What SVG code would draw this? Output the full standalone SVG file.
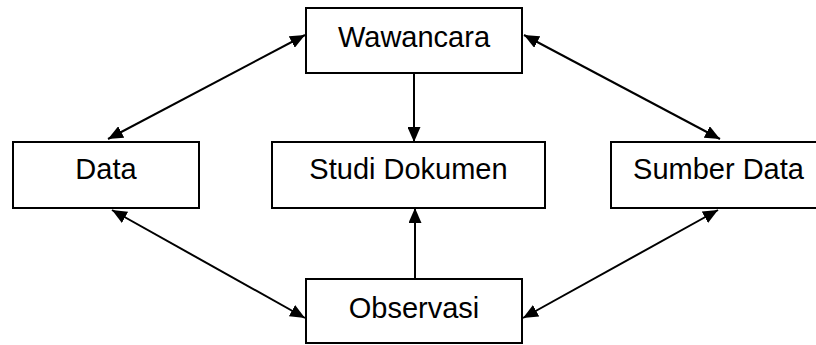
<svg xmlns="http://www.w3.org/2000/svg" width="816" height="345" viewBox="0 0 816 345">
<style>
.box{fill:#fff;stroke:#000;stroke-width:2}
.lbl{font-family:"Liberation Sans",Arial,sans-serif;font-size:29px;fill:#000;text-anchor:middle}
.con{stroke:#000;stroke-width:2;fill:none}
</style>
<defs>
<marker id="ah" viewBox="0 0 15 13" refX="15" refY="6.5" markerWidth="15" markerHeight="13" markerUnits="userSpaceOnUse" orient="auto-start-reverse">
<path d="M0,0 L15,6.5 L0,13 Z" fill="#000"/>
</marker>
</defs>
<g id="connectors">
<line class="con" x1="305" y1="35" x2="108" y2="139" marker-start="url(#ah)" marker-end="url(#ah)"/>
<line class="con" x1="524" y1="35" x2="720" y2="139" marker-start="url(#ah)" marker-end="url(#ah)"/>
<line class="con" x1="112" y1="210" x2="305" y2="318" marker-start="url(#ah)" marker-end="url(#ah)"/>
<line class="con" x1="718" y1="210" x2="523" y2="318" marker-start="url(#ah)" marker-end="url(#ah)"/>
<line class="con" x1="414" y1="73" x2="414" y2="142" marker-end="url(#ah)"/>
<line class="con" x1="415" y1="279" x2="415" y2="208" marker-end="url(#ah)"/>
</g>
<g id="wawancara">
<rect class="box" x="306" y="8" width="216" height="65"/>
<text class="lbl" x="414" y="47">Wawancara</text>
</g>
<g id="data">
<rect class="box" x="13" y="142" width="186" height="66"/>
<text class="lbl" x="106" y="179">Data</text>
</g>
<g id="studi-dokumen">
<rect class="box" x="272" y="142" width="273" height="66"/>
<text class="lbl" x="408.5" y="179">Studi Dokumen</text>
</g>
<g id="sumber-data">
<rect class="box" x="611" y="142" width="215" height="66"/>
<text class="lbl" x="718.5" y="179">Sumber Data</text>
</g>
<g id="observasi">
<rect class="box" x="306" y="279" width="216" height="64"/>
<text class="lbl" x="414" y="318">Observasi</text>
</g>
</svg>
